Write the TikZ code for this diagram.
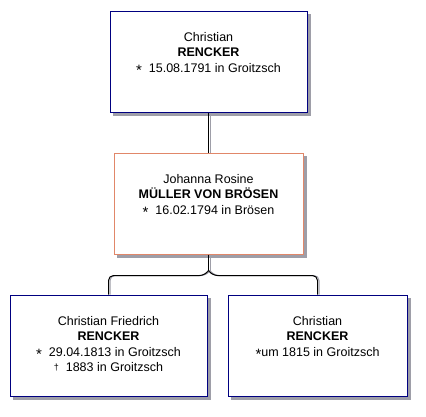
\documentclass[tikz,border=0pt]{standalone}
\usepackage{fontspec}
\setmainfont{Liberation Sans}
\usetikzlibrary{calc}
\definecolor{boxblue}{RGB}{0,0,128}
\definecolor{boxorange}{RGB}{225,135,105}
\definecolor{shadowgray}{RGB}{158,158,168}
\newcommand{\born}{\smash{\raisebox{-3pt}{\fontsize{15}{15}\selectfont *}}}
\newcommand{\died}{\smash{\raisebox{1pt}{\fontsize{9}{9}\selectfont †}}}

\begin{document}
\begin{tikzpicture}[x=1pt, y=-1pt,
    person/.style={draw=boxblue, fill=white, line width=1pt, minimum height=101pt, inner sep=0pt},
    spouse/.style={person, draw=boxorange},
    info/.style={anchor=north, align=center, inner sep=0pt, font=\fontsize{12.5}{15.5}\selectfont},
    link/.style={line width=1pt, preaction={draw=shadowgray, line width=1pt, transform canvas={xshift=1.5pt}}}]
    \useasboundingbox (0,0) rectangle (426,416);

    % Shadows
    \fill[shadowgray] (113,14) rectangle (311,116);
    \fill[shadowgray] (117,156) rectangle (307,258);
    \fill[shadowgray] (13,298) rectangle (211,400);
    \fill[shadowgray] (231,298) rectangle (411,400);

    % Father
    \node[person, minimum width=197pt] (father) at (208.5,61.5) {};
    \node[info] (fathertext) at ($(father.north)+(0,21.5)$)
        {Christian\\\textbf{RENCKER}\\\born\ \ 15.08.1791 in Groitzsch};

    % Mother
    \node[spouse, minimum width=189pt] (mother) at (208.5,203.5) {};
    \node[info] (mothertext) at ($(mother.north)+(0,21.5)$)
        {Johanna Rosine\\\textbf{MÜLLER VON BRÖSEN}\\\born\ \ 16.02.1794 in Brösen};

    % Children
    \node[person, minimum width=197pt] (childa) at (108.5,345.5) {};
    \node[info] (childatext) at ($(childa.north)+(0,21.5)$)
        {Christian Friedrich\\\textbf{RENCKER}\\\born\ \ 29.04.1813 in Groitzsch\\\died\ \ 1883 in Groitzsch};
    \node[person, minimum width=179pt] (childb) at (317.5,345.5) {};
    \node[info] (childbtext) at ($(childb.north)+(0,21.5)$)
        {Christian\\\textbf{RENCKER}\\\born um 1815 in Groitzsch};

    % Lines
    \coordinate (fork) at ($(mother.south)+(0,16)$);
    \draw[link] (father) -- (mother);
    \draw[link] (mother) -- (fork);
    \draw[link, rounded corners=5pt] (fork) -- ++(-4,5) -| (childa.north);
    \draw[link, rounded corners=5pt] (fork) -- ++(4,5) -| (childb.north);
\end{tikzpicture}
\end{document}
